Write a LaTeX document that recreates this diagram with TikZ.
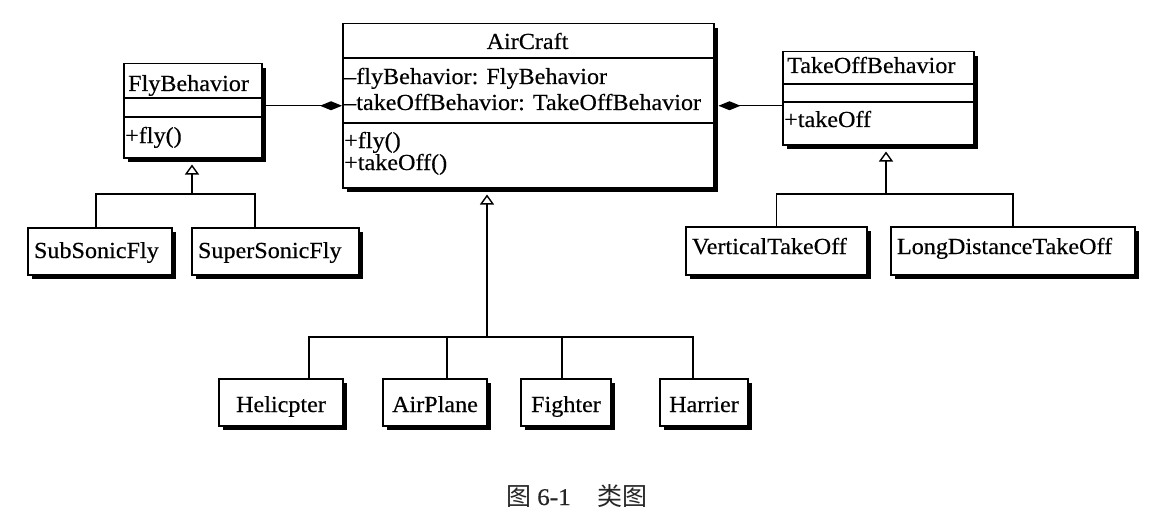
\documentclass[tikz,border=0pt]{standalone}
\usepackage{fontspec}
\setmainfont{Liberation Serif}[FakeStretch=1.05, FakeBold=0.4]
\newfontfamily\cjk{Noto Sans CJK SC}
\usetikzlibrary{arrows.meta,shadows}
\begin{document}
\begin{tikzpicture}[x=1pt,y=-1pt,
  every node/.style={font=\fontsize{23}{27}\selectfont, inner sep=0pt},
  box/.style={draw, line width=1.5pt, fill=white,
    drop shadow={shadow xshift=4pt, shadow yshift=-4pt, fill=black, opacity=1}},
  leftbox/.style={box, inner xsep=6pt, align=left},
  lbl/.style={anchor=base west},
  divider/.style={line width=1.4pt},
  gen/.style={line width=1.4pt},
  genhead/.style={line width=1.4pt, -{Triangle[open, length=10pt, width=14pt]}},
  comp/.style={line width=1.4pt, -{Diamond[length=22pt, width=9pt]}}
]
\fill[white] (0,0) rectangle (1172,524);
\useasboundingbox (0,0) rectangle (1172,524);

% FlyBehavior
\node[box, anchor=north west, minimum width=138pt, minimum height=94pt] (fly) at (123,63) {};
\draw[divider] ([yshift=-35pt]fly.north west) -- ([yshift=-35pt]fly.north east);
\draw[divider] ([yshift=-54pt]fly.north west) -- ([yshift=-54pt]fly.north east);
\node[lbl] (flyname) at (128,91) {FlyBehavior};
\node[lbl] (flyop) at (125,143) {+fly()};

% AirCraft
\node[box, anchor=north west, minimum width=371pt, minimum height=164pt] (ac) at (342,23) {};
\draw[divider] ([yshift=-35pt]ac.north west) -- ([yshift=-35pt]ac.north east);
\draw[divider] ([yshift=-100pt]ac.north west) -- ([yshift=-100pt]ac.north east);
\node[anchor=base] (acname) at (527.5,49) {AirCraft};
\node[lbl] (acattr1) at (344,84) {\textendash flyBehavior: FlyBehavior};
\node[lbl] (acattr2) at (344,110) {\textendash takeOffBehavior: TakeOffBehavior};
\node[lbl] (acop1) at (344,148) {+fly()};
\node[lbl] (acop2) at (344,170) {+takeOff()};

% TakeOffBehavior
\node[box, anchor=north west, minimum width=191pt, minimum height=93pt] (tob) at (782,51) {};
\draw[divider] ([yshift=-33pt]tob.north west) -- ([yshift=-33pt]tob.north east);
\draw[divider] ([yshift=-51pt]tob.north west) -- ([yshift=-51pt]tob.north east);
\node[lbl] (tobname) at (787,73) {TakeOffBehavior};
\node[lbl] (tobop) at (784,127) {+takeOff};

% simple classes
\node[leftbox, text width=132pt, minimum height=47pt, text height=13pt, text depth=0pt] (sub) at (100,251.5) {SubSonicFly};
\node[leftbox, text width=155pt, minimum height=47pt, text height=13pt, text depth=0pt] (sup) at (275.5,251.5) {SuperSonicFly};
\node[leftbox, text width=169pt, minimum height=48pt, text height=6pt, text depth=0pt] (vto) at (776.5,251) {VerticalTakeOff};
\node[leftbox, text width=232pt, minimum height=48pt, text height=6pt, text depth=0pt] (ldt) at (1013,251) {LongDistanceTakeOff};
\node[box, minimum width=124pt, minimum height=47pt, text height=19pt, text depth=0pt] (hel) at (281,402.5) {Helicpter};
\node[box, minimum width=104pt, minimum height=47pt, text height=19pt, text depth=0pt] (air) at (435,402.5) {AirPlane};
\node[box, minimum width=90pt, minimum height=47pt, text height=19pt, text depth=0pt] (fig) at (566,402.5) {Fighter};
\node[box, minimum width=88pt, minimum height=47pt, text height=19pt, text depth=0pt] (har) at (704,402.5) {Harrier};

% compositions
\draw[comp] (fly.east |- ac.west) -- (ac.west);
\draw[comp] (tob.west |- ac.east) -- ([xshift=4pt]ac.east);

% generalization: FlyBehavior
\coordinate (fj) at (192,194);
\coordinate (fl) at (96,194);
\coordinate (fr) at (255,194);
\draw[gen] (fl |- sub.north) -- (fl) -- (fr) -- (fr |- sup.north);
\draw[genhead] (fj) -- ([yshift=-6pt]fly.south -| fj);

% generalization: TakeOffBehavior
\coordinate (tj) at (886,194);
\coordinate (tl) at (776.5,194);
\coordinate (tr) at (1013,194);
\draw[gen] (tl |- vto.north) -- (tl) -- (tr) -- (tr |- ldt.north);
\draw[genhead] (tj) -- ([yshift=-6pt]tob.south -| tj);

% generalization: AirCraft
\coordinate (aj) at (487,337);
\coordinate (a1) at (309,337);
\coordinate (a2) at (447,337);
\coordinate (a3) at (562,337);
\coordinate (a4) at (693,337);
\draw[gen] (a1 |- hel.north) -- (a1) -- (a4) -- (a4 |- har.north);
\draw[gen] (a2 |- air.north) -- (a2);
\draw[gen] (a3 |- fig.north) -- (a3);
\draw[genhead] (aj) -- ([yshift=-6pt]ac.south -| aj);

% caption
\node[anchor=base west, text=black!85, font=\fontsize{24}{28}\selectfont] (cap) at (506,505) {{\cjk\fontsize{25}{28}\selectfont 图}\hspace{6pt}6-1\hspace{27pt}{\cjk\fontsize{25}{28}\selectfont 类图}};
\end{tikzpicture}
\end{document}
